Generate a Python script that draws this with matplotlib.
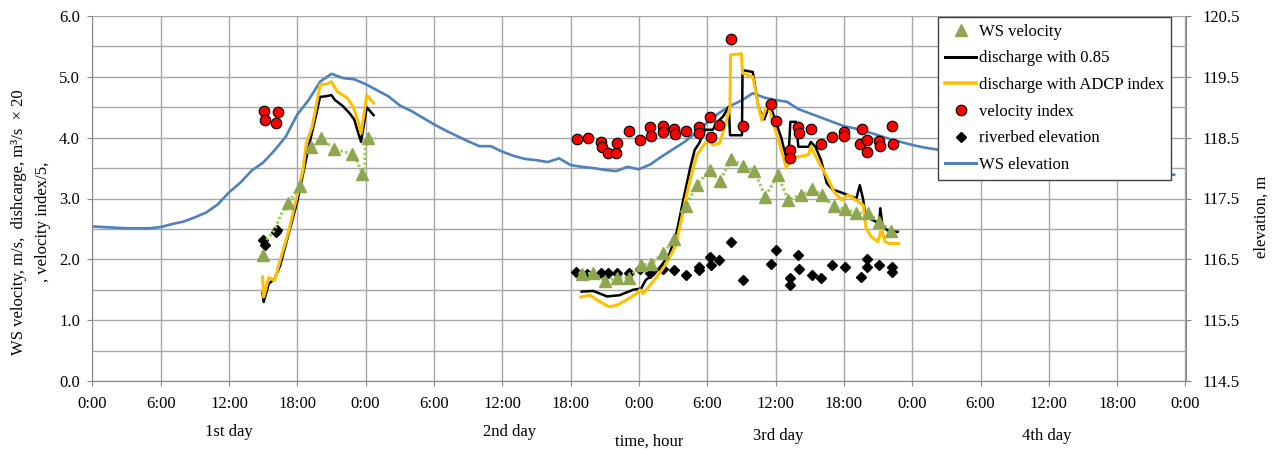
import numpy as np
import matplotlib
matplotlib.use("Agg")
import matplotlib.pyplot as plt
from matplotlib.lines import Line2D
from matplotlib.transforms import blended_transform_factory

plt.rcParams['font.family'] = ['Liberation Serif', 'DejaVu Serif']
plt.rcParams['font.size'] = 12

# ---------------- data (time in hours from 0:00 of the 1st day) ----------------
tick_hours = list(range(0, 97, 6))
tick_labels = ["0:00", "6:00", "12:00", "18:00"] * 4 + ["0:00"]
day_names = ["1st day", "2nd day", "3rd day", "4th day"]

# water-surface elevation, m
ws_elev_h = [0, 1, 2, 3, 4, 5, 6, 7, 8, 9, 10, 11, 12, 13, 14, 15, 16, 17, 18, 19,
             20, 21, 22, 23, 24, 25, 26, 27, 28, 29, 30, 31, 32, 33, 34, 35, 36, 37,
             38, 39, 40, 41, 42, 43, 44, 45, 46, 47, 48, 49, 50, 51, 52, 53, 54, 55,
             56, 57, 58, 59, 60, 61, 62, 63, 64, 65, 66, 67, 68, 69, 70, 71, 72, 73,
             74, 77, 80, 83, 86, 89, 92, 95]
ws_elev = [117.04, 117.03, 117.02, 117.01, 117.01, 117.01, 117.03, 117.08, 117.12,
           117.19, 117.27, 117.40, 117.60, 117.76, 117.96, 118.09, 118.29, 118.52,
           118.88, 119.12, 119.42, 119.55, 119.48, 119.46, 119.38, 119.28, 119.18,
           119.03, 118.94, 118.83, 118.72, 118.62, 118.53, 118.44, 118.36, 118.36,
           118.27, 118.20, 118.15, 118.13, 118.10, 118.16, 118.05, 118.02, 118.00,
           117.97, 117.95, 118.02, 117.98, 118.06, 118.19, 118.31, 118.43, 118.58,
           118.75, 118.90, 119.02, 119.11, 119.23, 119.16, 119.12, 119.09, 118.97,
           118.90, 118.83, 118.76, 118.69, 118.65, 118.60, 118.54, 118.48, 118.43,
           118.38, 118.34, 118.31, 118.22, 118.15, 118.08, 118.02, 117.97, 117.92,
           117.89]

# discharge with 0.85 (m3/s x 20); NaN separates the two survey periods
q085_h = [14.95, 15.05, 15.5, 16.0, 16.5, 17.0, 17.5, 18.0, 18.5, 19.0, 19.5, 20.0,
          20.5, 21.0, 21.3, 22.0, 22.6, 23.0, 23.4, 23.6, 24.1, 24.7, np.nan,
          42.97, 44.0, 45.2, 46.3, 47.5, 48.2, 48.6, 49.4, 50.1, 50.7, 51.3, 51.9,
          52.5, 52.9, 53.3, 53.8, 54.5, 54.8, 55.4, 55.9, 56.0, 57.05, 57.1, 58.0,
          58.5, 59.0, 59.5, 60.5, 61.1, 61.3, 61.8, 62.0, 62.9, 63.1, 63.5, 64.0,
          64.5, 65.0, 65.6, 66.3, 67.1, 67.4, 67.7, 67.9, 68.5, 69.1, 69.2, 69.4,
          69.9, 70.7]
q085 = [1.45, 1.30, 1.60, 1.68, 1.90, 2.25, 2.60, 2.95, 3.40, 3.85, 4.25, 4.67,
        4.68, 4.70, 4.62, 4.52, 4.40, 4.30, 4.05, 3.93, 4.50, 4.37, np.nan,
        1.47, 1.48, 1.39, 1.41, 1.50, 1.52, 1.66, 1.77, 1.93, 2.10, 2.43, 2.98,
        3.50, 3.80, 3.91, 4.13, 4.13, 4.24, 4.35, 4.51, 4.04, 4.04, 5.11, 5.08,
        4.50, 4.30, 4.55, 4.00, 3.55, 4.26, 4.26, 3.85, 3.85, 3.93, 3.85, 3.63,
        3.25, 3.15, 3.11, 3.06, 3.00, 3.22, 2.98, 2.70, 2.65, 2.59, 2.84, 2.54,
        2.47, 2.45]

# discharge with ADCP index (m3/s x 20)
qadcp_h = [14.95, 15.05, 15.5, 16.0, 16.5, 17.2, 17.9, 18.5, 18.8, 19.3, 19.6, 20.0,
           20.6, 21.0, 21.5, 22.4, 22.9, 23.3, 23.6, 24.1, 24.7, np.nan,
           42.9, 43.7, 44.6, 45.4, 46.1, 46.9, 47.8, 48.1, 48.4, 49.0, 49.8, 50.4,
           51.2, 51.6, 52.1, 52.5, 53.1, 53.7, 54.1, 54.5, 55.1, 55.7, 56.0, 56.05,
           57.0, 57.1, 58.0, 58.5, 58.8, 59.3, 59.9, 60.5, 60.95, 61.25, 62.1, 62.9,
           63.1, 63.7, 64.5, 65.2, 65.8, 66.4, 67.0, 67.7, 67.95, 68.4, 69.0, 69.3,
           69.6, 70.0, 70.8]
qadcp = [1.71, 1.38, 1.70, 1.65, 1.99, 2.43, 2.98, 3.47, 3.91, 4.18, 4.46, 4.87,
         4.88, 4.92, 4.76, 4.65, 4.51, 4.29, 4.07, 4.70, 4.57, np.nan,
         1.38, 1.41, 1.30, 1.22, 1.25, 1.33, 1.44, 1.50, 1.44, 1.58, 1.77, 1.93,
         2.21, 2.54, 2.98, 3.30, 3.72, 3.88, 3.96, 3.88, 3.91, 4.29, 4.51, 5.36,
         5.38, 5.06, 5.00, 4.51, 4.29, 4.57, 4.18, 3.80, 3.50, 3.66, 3.69, 3.72,
         3.85, 3.63, 3.36, 3.09, 2.98, 3.06, 2.98, 2.89, 2.51, 2.37, 2.29, 2.51,
         2.29, 2.26, 2.26]

# water-surface velocity, m/s
wsv_h = [15.0, 17.2, 18.2, 19.2, 20.1, 21.2, 22.8, 23.7, 24.2,
         43.0, 44.0, 45.0, 46.1, 47.1, 48.2, 49.1, 50.1, 51.1, 52.1, 53.1, 54.2,
         55.1, 56.1, 57.1, 58.1, 59.1, 60.2, 61.1, 62.2, 63.2, 64.1, 65.1, 66.1,
         67.1, 68.1, 69.1, 70.1]
wsv = [2.07, 2.92, 3.21, 3.85, 3.99, 3.82, 3.73, 3.41, 3.99,
       1.76, 1.77, 1.65, 1.70, 1.70, 1.90, 1.93, 2.10, 2.33, 2.88, 3.22, 3.47,
       3.28, 3.65, 3.54, 3.46, 3.03, 3.39, 2.98, 3.05, 3.15, 3.06, 2.87, 2.82,
       2.76, 2.76, 2.62, 2.47]

# continuous WS velocity record (dotted trace)
wsv_line_h = [15.3, 16.0, 16.6, 17.2, 18.2, 18.9, 19.2, 20.1, 21.2, 21.9, 22.8, 23.3,
              23.7, 23.95, 23.95, 24.2, 24.9, np.nan,
              42.7, 43.0, 44.0, 45.0, 46.1, 47.1, 48.2, 49.1, 50.1, 51.1, 52.1, 53.1,
              54.2, 55.1, 56.1, 57.1, 58.1, 59.1, 60.2, 61.1, 62.2, 63.2, 64.1, 65.1,
              66.1, 67.1, 68.1, 69.1, 70.1, 70.9]
wsv_line = [2.32, 2.48, 2.75, 2.92, 3.21, 3.80, 3.85, 3.99, 3.82, 3.78, 3.73, 3.60,
            3.41, 3.45, 3.80, 3.99, 3.99, np.nan,
            1.78, 1.76, 1.77, 1.65, 1.70, 1.70, 1.90, 1.93, 2.10, 2.33, 2.88, 3.22,
            3.47, 3.28, 3.65, 3.54, 3.46, 3.03, 3.39, 2.98, 3.05, 3.15, 3.06, 2.87,
            2.82, 2.76, 2.76, 2.62, 2.47, 2.47]

# velocity index / 5
vidx_h = [15.1, 15.2, 16.1, 16.3,
          42.6, 43.5, 44.7, 44.8, 45.3, 46.0, 46.1, 47.1, 48.1, 49.0, 49.1, 50.1,
          50.1, 51.1, 51.2, 52.1, 53.3, 53.3, 54.2, 54.3, 55.0, 56.05, 57.1, 59.6,
          60.0, 61.25, 61.3, 62.0, 62.1, 63.1, 64.0, 65.0, 66.0, 66.0, 67.45, 67.55,
          68.0, 68.0, 69.1, 69.2, 70.2, 70.3]
vidx = [4.44, 4.29, 4.24, 4.43,
        3.97, 4.00, 3.93, 3.84, 3.74, 3.75, 3.91, 4.11, 3.96, 4.18, 4.03, 4.19,
        4.10, 4.14, 4.06, 4.11, 4.17, 4.08, 4.34, 4.01, 4.21, 5.63, 4.20, 4.55,
        4.27, 3.79, 3.66, 4.17, 4.07, 4.14, 3.89, 4.01, 4.10, 4.03, 3.90, 4.14,
        3.96, 3.77, 3.95, 3.87, 4.19, 3.90]

# riverbed elevation, m
bed_h = [15.0, 15.2, 16.1, 16.25,
         42.5, 43.4, 44.7, 45.3, 46.1, 47.1, 48.1, 49.0, 50.1, 51.1, 52.1, 53.3,
         53.3, 54.2, 54.3, 55.0, 56.1, 57.1, 59.6, 60.0, 61.25, 61.3, 62.0, 62.1,
         63.2, 64.0, 65.0, 66.1, 67.5, 68.0, 68.0, 69.1, 70.2, 70.2]
bed = [116.82, 116.74, 116.95, 116.99,
       116.29, 116.26, 116.27, 116.27, 116.28, 116.27, 116.34, 116.27, 116.34,
       116.32, 116.24, 116.37, 116.32, 116.54, 116.41, 116.49, 116.79, 116.16,
       116.43, 116.65, 116.19, 116.08, 116.57, 116.34, 116.24, 116.20, 116.41,
       116.38, 116.21, 116.50, 116.37, 116.41, 116.37, 116.30]

# ---------------- figure ----------------
W, H = 1279, 450
fig = plt.figure(figsize=(W / 100, H / 100), dpi=100)
x0, x1, yb, yt = 92.3, 1185.5, 381, 16
ax_e = fig.add_axes([x0 / W, 1 - yb / H, (x1 - x0) / W, (yb - yt) / H])
ax_v = ax_e.twinx()

grid_c = "#A6A6A6"
spine_c = "#868686"
tick_len = 3.6

# elevation axis (right side, drawn underneath)
ax_e.set_xlim(0, 96)
ax_e.set_ylim(114.5, 120.5)
ax_e.yaxis.tick_right()
ax_e.yaxis.set_label_position("right")
ax_e.set_yticks(np.arange(114.5, 120.51, 1.0))
ax_e.set_yticks(np.arange(115.0, 120.01, 1.0), minor=True)
ax_e.yaxis.set_major_formatter(matplotlib.ticker.FormatStrFormatter("%.1f"))
ax_e.set_xticks(tick_hours)
ax_e.set_xticklabels(tick_labels)
ax_e.grid(True, which="both", axis="y", color=grid_c, lw=1)
ax_e.grid(True, which="major", axis="x", color=grid_c, lw=1)
ax_e.set_axisbelow(True)
ax_e.tick_params(axis="y", which="major", direction="out", length=tick_len,
                 color=spine_c, pad=8.3, labelsize=12, right=True, left=False)
ax_e.tick_params(axis="y", which="minor", length=0)
ax_e.tick_params(axis="x", direction="out", length=tick_len, color=spine_c, pad=7.5,
                 labelsize=12)
for s in ("top", "left"):
    ax_e.spines[s].set_visible(False)
ax_e.spines["right"].set_color(spine_c)
ax_e.spines["bottom"].set_color(spine_c)

ax_e.plot(ws_elev_h, ws_elev, color="#4F81BD", lw=1.9, solid_joinstyle="round", zorder=2)
ax_e.plot(bed_h, bed, ls="none", marker="D", ms=5.6, color="black", zorder=3)

# velocity / discharge axis (left side, drawn on top)
ax_v.set_ylim(0, 6)
ax_v.yaxis.tick_left()
ax_v.yaxis.set_label_position("left")
ax_v.set_yticks(np.arange(0, 6.01, 1.0))
ax_v.yaxis.set_major_formatter(matplotlib.ticker.FormatStrFormatter("%.1f"))
ax_v.tick_params(axis="y", direction="out", length=tick_len, color=spine_c, pad=5.3,
                 labelsize=12, left=True, right=False)
for s in ("top", "right", "bottom"):
    ax_v.spines[s].set_visible(False)
ax_v.spines["left"].set_color(spine_c)

ax_v.plot(wsv_line_h, wsv_line, color="#92D050", lw=2.2, ls=(0, (0.8, 0.8)),
          dash_capstyle="butt", zorder=2)
ax_v.plot(q085_h, q085, color="black", lw=1.8, zorder=3)
ax_v.plot(qadcp_h, qadcp, color="#FFC000", lw=2.2, zorder=3)
ax_v.plot(wsv_h, wsv, ls="none", marker="^", ms=9, color="#8DA64F", zorder=4)
ax_v.plot(vidx_h, vidx, ls="none", marker="o", ms=7.6, mfc="#FF0000", mec="black",
          mew=0.8, zorder=5)

# axis titles
fig.text(31 / W, 1 - 222 / H,
         "WS velocity, m/s,  dishcarge, m³/s  × 20\n, velocity index/5,",
         rotation=90, ha="center", va="center", ma="center", fontsize=12,
         linespacing=1.7)
fig.text(1262 / W, 1 - 217 / H, "elevation, m", rotation=90, ha="center",
         va="center", fontsize=12)

# day captions under the time axis
tr = blended_transform_factory(ax_e.transData, ax_e.transAxes)
day_pos = [(12.0, -0.140), (36.6, -0.140), (60.2, -0.152), (83.8, -0.152)]
for name, (hx, hy) in zip(day_names, day_pos):
    ax_e.text(hx, hy, name, transform=tr, ha="center", va="center", fontsize=12)
ax_e.text(48.9, -0.166, "time, hour", transform=tr, ha="center", va="center", fontsize=12)

# legend
handles = [
    Line2D([], [], ls="none", marker="^", ms=8, color="#8DA64F"),
    Line2D([], [], color="black", lw=2.2),
    Line2D([], [], color="#FFC000", lw=2.6),
    Line2D([], [], ls="none", marker="o", ms=7.6, mfc="#FF0000", mec="black", mew=0.8),
    Line2D([], [], ls="none", marker="D", ms=5.6, color="black"),
    Line2D([], [], color="#4F81BD", lw=2.2),
]
labels = ["WS velocity", "discharge with 0.85", "discharge with ADCP index",
          "velocity index", "riverbed elevation", "WS elevation"]
leg = ax_v.legend(handles, labels, loc="upper left", bbox_to_anchor=(0.774, 0.998),
                  borderaxespad=0, fancybox=False, framealpha=1, edgecolor="#404040",
                  fontsize=12, handlelength=1.85, handletextpad=0.15, labelspacing=0.64,
                  borderpad=0.42)
leg.get_frame().set_linewidth(1.0)

fig.savefig("out.png", dpi=100)
